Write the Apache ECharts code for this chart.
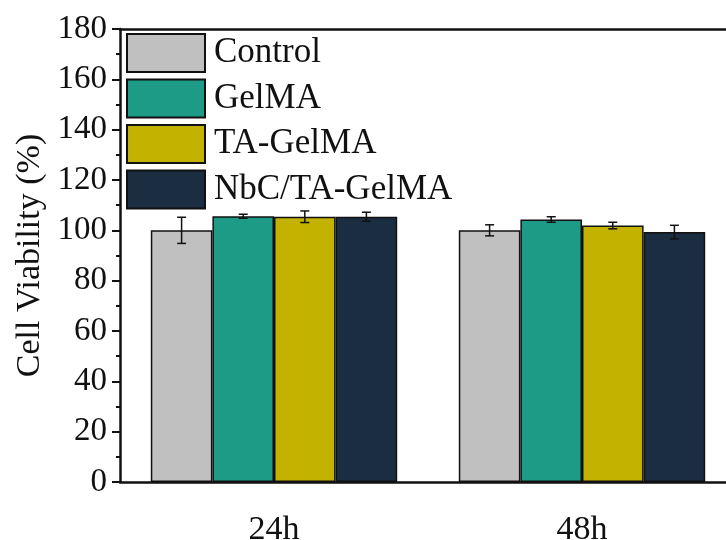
<!DOCTYPE html>
<html>
<head>
<meta charset="utf-8">
<script src="https://cdn.jsdelivr.net/npm/echarts@6/dist/echarts.min.js"></script>
<style>html,body{margin:0;padding:0;background:#fff}#c{width:726px;height:540px}</style>
</head>
<body>
<div id="c"></div>
<script>
var categories = ['24h', '48h'];
var seriesNames = ['Control', 'GelMA', 'TA-GelMA', 'NbC/TA-GelMA'];
var controlVals = [100.0, 100.0];
var controlErr = [5.2, 2.2];
var gelmaVals = [105.6, 104.3];
var gelmaErr = [0.8, 1.1];
var taGelmaVals = [105.4, 101.9];
var taGelmaErr = [2.3, 1.3];
var nbcVals = [105.4, 99.3];
var nbcErr = [1.8, 2.7];
var yTicks = [0, 20, 40, 60, 80, 100, 120, 140, 160, 180];

var colors = ['#c0c0c0', '#1e9b86', '#c4b200', '#1b2d40'];
var allVals = [controlVals, gelmaVals, taGelmaVals, nbcVals];
var allErr = [controlErr, gelmaErr, taGelmaErr, nbcErr];
var FONT = '"Liberation Serif", "Times New Roman", serif';
var CAT_GAP = 0.2;

var series = seriesNames.map(function (n, i) {
  return {
    name: n, type: 'bar', data: allVals[i], barGap: '0%', barCategoryGap: '20%',
    itemStyle: { color: colors[i], borderColor: '#111', borderWidth: 1.5 },
    xAxisIndex: 0, yAxisIndex: 0
  };
});

var errData = [];
for (var s = 0; s < allVals.length; s++) {
  for (var c = 0; c < categories.length; c++) {
    errData.push([c, s, allVals[s][c], allErr[s][c]]);
  }
}
series.push({
  type: 'custom', xAxisIndex: 0, yAxisIndex: 0, z: 10,
  encode: { x: 0, y: 2 },
  data: errData,
  renderItem: function (params, api) {
    var ci = api.value(0), si = api.value(1), v = api.value(2), e = api.value(3);
    var band = api.size([1, 0])[0];
    var barW = band * (1 - CAT_GAP) / allVals.length;
    var top = api.coord([ci, v + e]);
    var bot = api.coord([ci, v - e]);
    var x = top[0] + (si - (allVals.length - 1) / 2) * barW;
    var cap = 4.5;
    var st = { stroke: '#111', lineWidth: 1.5 };
    return { type: 'group', children: [
      { type: 'line', shape: { x1: x, y1: top[1], x2: x, y2: bot[1] }, style: st },
      { type: 'line', shape: { x1: x - cap, y1: top[1], x2: x + cap, y2: top[1] }, style: st },
      { type: 'line', shape: { x1: x - cap, y1: bot[1], x2: x + cap, y2: bot[1] }, style: st }
    ]};
  }
});

var chart = echarts.init(document.getElementById('c'), null, { renderer: 'canvas' });
chart.setOption({
  animation: false,
  backgroundColor: '#fff',
  grid: { left: 120, width: 616, top: 29, height: 453, containLabel: false, outerBoundsMode: 'none' },
  legend: {
    data: seriesNames, orient: 'vertical', left: 126, top: 33, padding: 0,
    itemWidth: 78, itemHeight: 38, itemGap: 5.5, icon: 'rect',
    textStyle: { fontFamily: FONT, fontSize: 35, color: '#111', padding: [0, 0, 0, 4] }
  },
  xAxis: [{
    type: 'category', data: categories, position: 'bottom',
    axisLine: { lineStyle: { color: '#111', width: 2.5 } },
    axisTick: { show: false },
    axisLabel: { fontFamily: FONT, fontSize: 34, color: '#111', margin: 31 }
  }, {
    type: 'category', data: categories, position: 'top',
    axisLine: { lineStyle: { color: '#111', width: 2.5 } },
    axisTick: { show: false }, axisLabel: { show: false }
  }],
  yAxis: {
    type: 'value', min: 0, max: 180, interval: 20,
    name: 'Cell Viability (%)', nameLocation: 'middle', nameGap: 73, nameRotate: 90,
    nameTextStyle: { fontFamily: FONT, fontSize: 34, color: '#111' },
    axisLine: { show: true, lineStyle: { color: '#111', width: 2.5 } },
    axisTick: { show: true, length: 8, lineStyle: { color: '#111', width: 2 } },
    minorTick: { show: true, splitNumber: 2, length: 4, lineStyle: { color: '#111', width: 2 } },
    splitLine: { show: false },
    axisLabel: { fontFamily: FONT, fontSize: 33, color: '#111', margin: 13,
      formatter: function (v) { return yTicks.indexOf(v) >= 0 ? String(v) : ''; } }
  },
  series: series
});
</script>
</body>
</html>
